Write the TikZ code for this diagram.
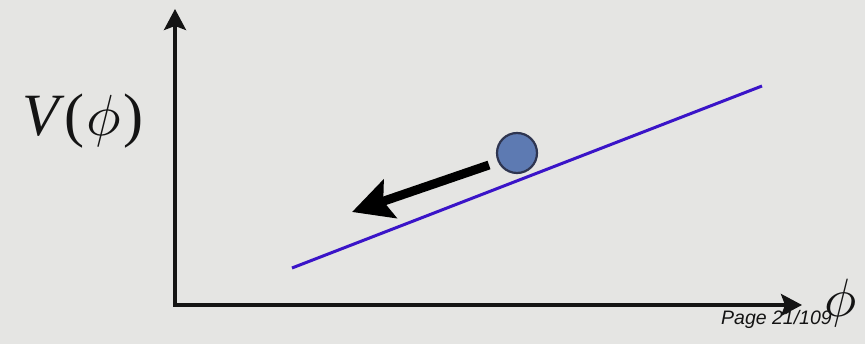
\documentclass[tikz,border=0pt]{standalone}
\usepackage{fontspec}
\usepackage{graphicx}
\setmainfont{Liberation Serif}
\newfontfamily\pagefont{Liberation Sans}
\usetikzlibrary{arrows.meta}
\definecolor{bg}{HTML}{E5E5E3}
\definecolor{potblue}{HTML}{3A14C8}
\definecolor{ballfill}{HTML}{5D7AB2}
\definecolor{ballrim}{HTML}{2E3550}
\definecolor{axisc}{HTML}{141414}
\newcommand{\bigphi}[1]{\scalebox{#1}{\fontsize{10}{12}\selectfont$\phi$}}
\tikzset{
  axis/.style={draw=axisc, line width=3.5pt, -{Stealth[length=21pt,width=22pt,inset=4pt]}},
  potential/.style={draw=potblue, line width=3pt},
  ballstyle/.style={circle, minimum size=40pt, inner sep=0pt, fill=ballfill, draw=ballrim, line width=2.2pt},
  rollarrow/.style={draw=black, line width=9pt, -{Stealth[length=40pt,width=40pt,inset=7pt]}},
  lbl/.style={inner sep=0pt, text=axisc}
}
\begin{document}
\begin{tikzpicture}[x=1pt,y=-1pt]
\useasboundingbox (0,0) rectangle (865,344);
\fill[bg] (0,0) rectangle (865,344);
\coordinate (origin) at (175,305);
\coordinate (ytop) at (175,9);
\coordinate (xend) at (802,305);
\coordinate (potA) at (292,268);
\coordinate (potB) at (762,86);
\coordinate (arrtail) at (489,165);
\coordinate (arrtip) at (352,212);
\draw[axis, -, line cap=rect] (175,290) -- (origin) -- (790,305);
\draw[axis] (origin) -- (ytop);
\draw[axis] (origin) -- (xend);
\draw[potential] (potA) -- (potB);
\node[ballstyle] (ball) at (517,153) {};
\draw[rollarrow] (arrtail) -- (arrtip);
\node[lbl, font=\fontsize{60}{62}\selectfont] (vlab) at (83,121) {\textit{V}(\kern2pt\bigphi{5.8}\kern2pt)};
\node[lbl] (philab) at (841,303) {\bigphi{5.4}};
\node[lbl, font=\pagefont\itshape\fontsize{19.5}{21}\selectfont, anchor=west] (page) at (721,319) {Page 21/109};
\end{tikzpicture}
\end{document}
